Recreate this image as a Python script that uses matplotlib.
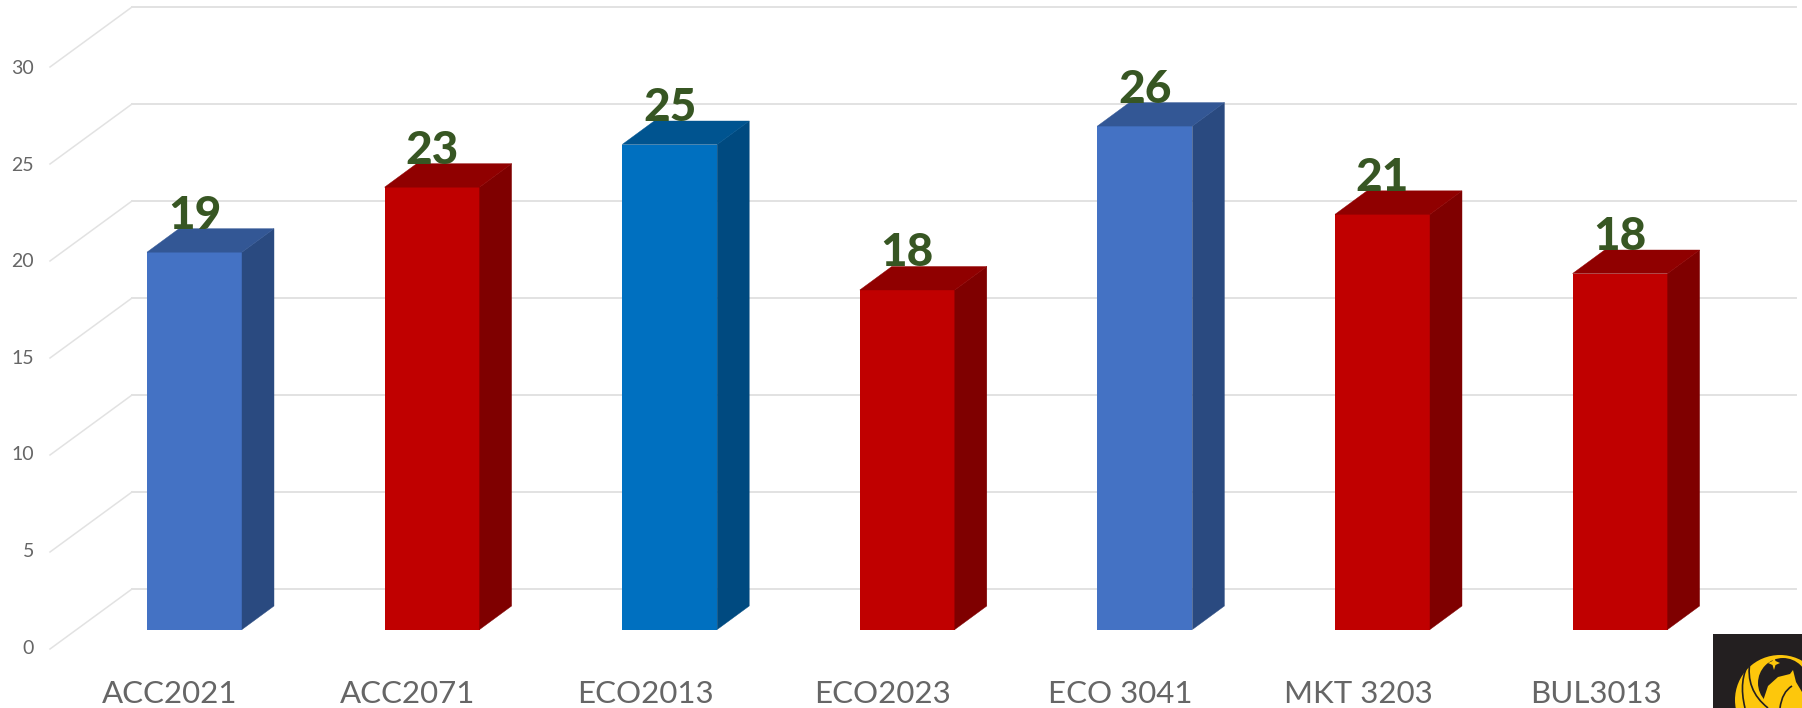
import numpy as np
import matplotlib
matplotlib.use("Agg")
import matplotlib.pyplot as plt
from matplotlib.patches import Polygon, Rectangle, Circle, PathPatch
from matplotlib.path import Path

plt.rcParams["font.family"] = ["Lato", "DejaVu Sans"]

# ------------------------------------------------
#  Data
# ------------------------------------------------

courses = ["ACC2021", "ACC2071", "ECO2013", "ECO2023", "ECO 3041", "MKT 3203", "BUL3013"]
heights = [19.45, 22.8, 25.0, 17.5, 25.95, 21.4, 18.35]
value_labels = ["19", "23", "25", "18", "26", "21", "18"]
y_ticks = [0, 5, 10, 15, 20, 25, 30]

# front, side, top
BLUE = ("#4472C4", "#2A4A80", "#335795")
RED = ("#C00000", "#7F0000", "#900000")
STRONG_BLUE = ("#0070C0", "#004A80", "#005490")
bar_colors = [BLUE, RED, STRONG_BLUE, RED, BLUE, RED, RED]

# ------------------------------------------------
#  Layout (pixels of the 1802x708 picture)
# ------------------------------------------------

W, H = 1802, 708
PX_PER_CAT = 237.6
PX_PER_UNIT = 19.4
FIRST_CENTER = 194.5
BASE_Y = 629.5

DEPTH_X = 32 / PX_PER_CAT
DEPTH_Y = 23.5 / PX_PER_UNIT
BAR_W = 95 / PX_PER_CAT


def cat_x(px):
    return (px - FIRST_CENTER) / PX_PER_CAT


def val_y(px):
    return (BASE_Y - px) / PX_PER_UNIT


fig = plt.figure(figsize=(W / 100, H / 100), dpi=100)
ax = fig.add_axes([0, 0, 1, 1])
ax.set_xlim(cat_x(0), cat_x(W))
ax.set_ylim(val_y(H), val_y(0))
ax.axis("off")

# ------------------------------------------------
#  Back wall and floor lines
# ------------------------------------------------

GRID = "#E2E2E2"
WALL_OFFSET = val_y(589)
LABEL_OFFSET = val_y(648)
for v in y_ticks:
    yb = v + WALL_OFFSET
    ax.plot([cat_x(132), cat_x(1796)], [yb, yb], color=GRID, lw=1.4, zorder=1)
    ax.plot([cat_x(50), cat_x(132)], [yb - 60 / PX_PER_UNIT, yb], color=GRID, lw=1.1, zorder=1)
    ax.text(cat_x(34), LABEL_OFFSET + v * 0.995, str(v), ha="right", va="center",
            fontsize=14, color="#666666")

# ------------------------------------------------
#  3D bars
# ------------------------------------------------

for i, (h, cols) in enumerate(zip(heights, bar_colors)):
    left, right = i - BAR_W / 2, i + BAR_W / 2
    ax.bar(i, h, width=BAR_W, color=cols[0], linewidth=0, zorder=3)
    ax.add_patch(Polygon([(right, 0), (right + DEPTH_X, DEPTH_Y),
                          (right + DEPTH_X, h + DEPTH_Y), (right, h)],
                         closed=True, facecolor=cols[1], edgecolor=cols[1], linewidth=0.3, zorder=3))
    ax.add_patch(Polygon([(left, h), (left + DEPTH_X, h + DEPTH_Y),
                          (right + DEPTH_X, h + DEPTH_Y), (right, h)],
                         closed=True, facecolor=cols[2], edgecolor=cols[2], linewidth=0.3, zorder=3))
    ax.text(i, h + DEPTH_Y, value_labels[i], ha="center", va="baseline",
            fontsize=33, fontweight="black", color="#375623", zorder=4)
    ax.text(i - 24.5 / PX_PER_CAT, val_y(703), courses[i], ha="center", va="baseline",
            fontsize=22.5, color="#666666", zorder=4)

# ------------------------------------------------
#  Corner logo
# ------------------------------------------------

logo = fig.add_axes([1713 / W, 0, (W - 1713) / W, 74 / H])
logo.set_xlim(1713, 1802)
logo.set_ylim(708, 634)
logo.axis("off")
DARK = "#231F20"
GOLD = "#FDC70C"
logo.add_patch(Rectangle((1713, 634), 89, 74, facecolor=DARK, linewidth=0))
logo.add_patch(Circle((1780, 700), 45, facecolor=GOLD, linewidth=0))
logo.add_patch(Circle((1783, 683), 25, facecolor=DARK, linewidth=0))
logo.add_patch(Polygon([(1762, 704), (1768, 686), (1778, 677), (1790, 674), (1793, 670),
                        (1796, 682), (1802, 692), (1802, 708), (1762, 708)],
                       closed=True, facecolor=GOLD, linewidth=0))
logo.add_patch(Polygon([(1774, 656), (1775.5, 661), (1780, 663), (1775.5, 665), (1774, 670),
                        (1772.5, 665), (1768, 663), (1772.5, 661)],
                       closed=True, facecolor=GOLD, linewidth=0))
for start, ctrl, end in [((1750, 661), (1738, 680), (1745, 708)),
                         ((1750, 661), (1745, 690), (1768, 708)),
                         ((1780, 708), (1782, 692), (1792, 686))]:
    logo.add_patch(PathPatch(Path([start, ctrl, end], [Path.MOVETO, Path.CURVE3, Path.CURVE3]),
                             facecolor="none", edgecolor=DARK, linewidth=1.2))

fig.savefig("out.png", dpi=100)
